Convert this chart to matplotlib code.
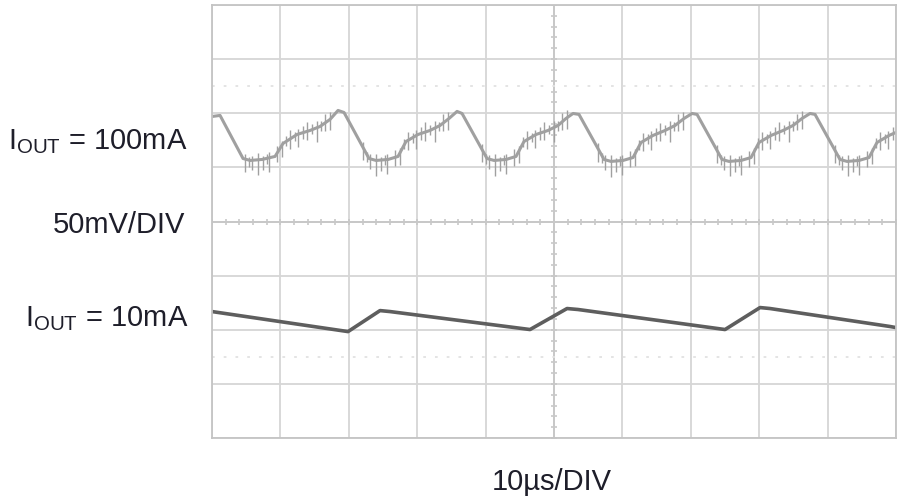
import matplotlib.pyplot as plt
import numpy as np

plt.rcParams['font.family'] = ['Liberation Sans', 'DejaVu Sans']
plt.rcParams['mathtext.fontset'] = 'custom'
plt.rcParams['mathtext.rm'] = 'Liberation Sans'

# time in us (10us/DIV), voltage in mV (50mV/DIV), screen centre = 0
# IOUT = 100mA trace (upper), keypoints
t_100 = [0, 1.17, 4.53, 5.56, 7.31, 9.21, 10.38, 12.43, 14.33, 15.79, 17.25, 18.42, 19.30, 22.95,
         23.98, 25.73, 27.19, 28.36, 30.12, 31.87, 33.33, 34.65, 35.82, 36.55, 40.20,
         41.23, 42.98, 44.44, 45.61, 47.37, 49.12, 50.58, 51.75, 52.78, 53.65, 57.31,
         58.33, 60.09, 61.55, 62.72, 64.47, 66.23, 67.69, 69.01, 70.18, 70.91, 74.56,
         75.58, 77.34, 78.80, 79.97, 81.73, 83.48, 84.94, 86.26, 87.43, 88.16, 91.81,
         92.84, 94.59, 96.05, 97.22, 98.98, 100.0]
v_100 = [97.0, 98.0, 58.2, 56.4, 57.3, 60.1, 72.1, 80.4, 84.1, 87.8, 94.3, 102.6, 100.7, 58.2,
         56.4, 57.3, 60.1, 73.9, 80.4, 84.1, 88.7, 95.2, 101.7, 99.8, 58.2,
         56.4, 57.3, 60.1, 73.9, 80.4, 84.1, 88.7, 95.2, 99.8, 98.9, 57.3,
         55.5, 56.4, 59.1, 73.0, 79.5, 84.1, 88.7, 95.2, 99.8, 98.9, 57.3,
         55.5, 56.4, 59.1, 73.0, 79.5, 84.1, 88.7, 95.2, 99.8, 98.9, 57.3,
         55.5, 56.4, 59.1, 73.0, 79.5, 82.3]

# switching spikes riding on the upper trace: times after each peak, lengths in mV
peak_times = [1.17, 18.42, 35.82, 52.78, 70.18, 87.43]
spike_offsets = [3.65, 4.30, 4.68, 5.56, 6.29, 6.90, 7.16, 8.33, 9.06, 9.70, 10.23, 10.90,
                 11.40, 12.10, 12.72, 13.40, 14.18, 14.80, 15.35, 16.08]
spike_down = [12, 6, 9, 14, 10, 5, 13, 8, 11, 4, 9, 5, 12, 6, 8, 4, 13, 5, 7, 10]
spike_up = [5, 3, 4, 6, 3, 4, 5, 7, 4, 5, 8, 4, 5, 6, 9, 5, 6, 4, 8, 7]

# IOUT = 10mA trace (lower)
t_10 = [0, 19.88, 24.56, 26.02, 46.49, 51.90, 53.51, 75.00, 80.12, 81.58, 99.12, 100.0]
v_10 = [-83.2, -101.7, -82.3, -83.2, -99.8, -80.4, -81.3, -99.8, -79.5, -80.4, -97.0, -98.0]

fig = plt.figure(figsize=(9, 5), dpi=100)
ax = fig.add_axes([0.2356, 0.124, 0.7600, 0.866])
ax.set_xlim(0, 100)
ax.set_ylim(-200, 200)

grid_col = '#d6d6d6'
ax.set_xticks(np.arange(0, 101, 10))
ax.set_yticks(np.arange(-200, 201, 50))
ax.grid(True, color=grid_col, lw=1.3)
ax.tick_params(length=0, labelbottom=False, labelleft=False)
for s in ax.spines.values():
    s.set_color('#c4c4c4')
    s.set_linewidth(1.3)

# centre graticule with minor marks
ax.axhline(0, color='#c8c8c8', lw=1.4)
ax.axvline(50, color='#c8c8c8', lw=1.4)
ax.plot(np.arange(0, 101, 2), np.zeros(51), ls='none', marker='|', ms=5, mew=1.2, color='#c8c8c8')
ax.plot(np.full(41, 50.0), np.arange(-200, 201, 10), ls='none', marker='_', ms=5, mew=1.2, color='#c8c8c8')

# faint dotted reference lines
for yr in (125, -125):
    ax.axhline(yr, color='#e2e2e2', lw=1.3, ls=(0, (1.5, 5)))

# traces
top_col = '#a0a0a0'
ax.plot(t_100, v_100, color=top_col, lw=2.2, solid_joinstyle='round')
for tp in peak_times:
    ts = np.array(spike_offsets) + tp
    keep = ts <= 100
    base = np.interp(ts[keep], t_100, v_100)
    ax.vlines(ts[keep], base - np.array(spike_down)[keep], base + np.array(spike_up)[keep],
              color=top_col, lw=1.0)

ax.plot(t_10, v_10, color='#5e5e5e', lw=2.6, solid_joinstyle='round')

# labels
txt_col = '#1e1e2a'
fs = 21
ax.text(-3.5, 66.5, r'$\mathrm{I}_{\mathrm{OUT}}$ = 100mA', ha='right', va='baseline',
        fontsize=fs, color=txt_col, clip_on=False)
ax.text(-3.9, -10.2, '50mV/DIV', ha='right', va='baseline', fontsize=fs, color=txt_col, clip_on=False)
ax.text(-3.5, -97, r'$\mathrm{I}_{\mathrm{OUT}}$ = 10mA', ha='right', va='baseline',
        fontsize=fs, color=txt_col, clip_on=False)
ax.text(49.7, -247.7, '10µs/DIV', ha='center', va='baseline', fontsize=fs, color=txt_col, clip_on=False)

fig.savefig('out.png', dpi=100)
